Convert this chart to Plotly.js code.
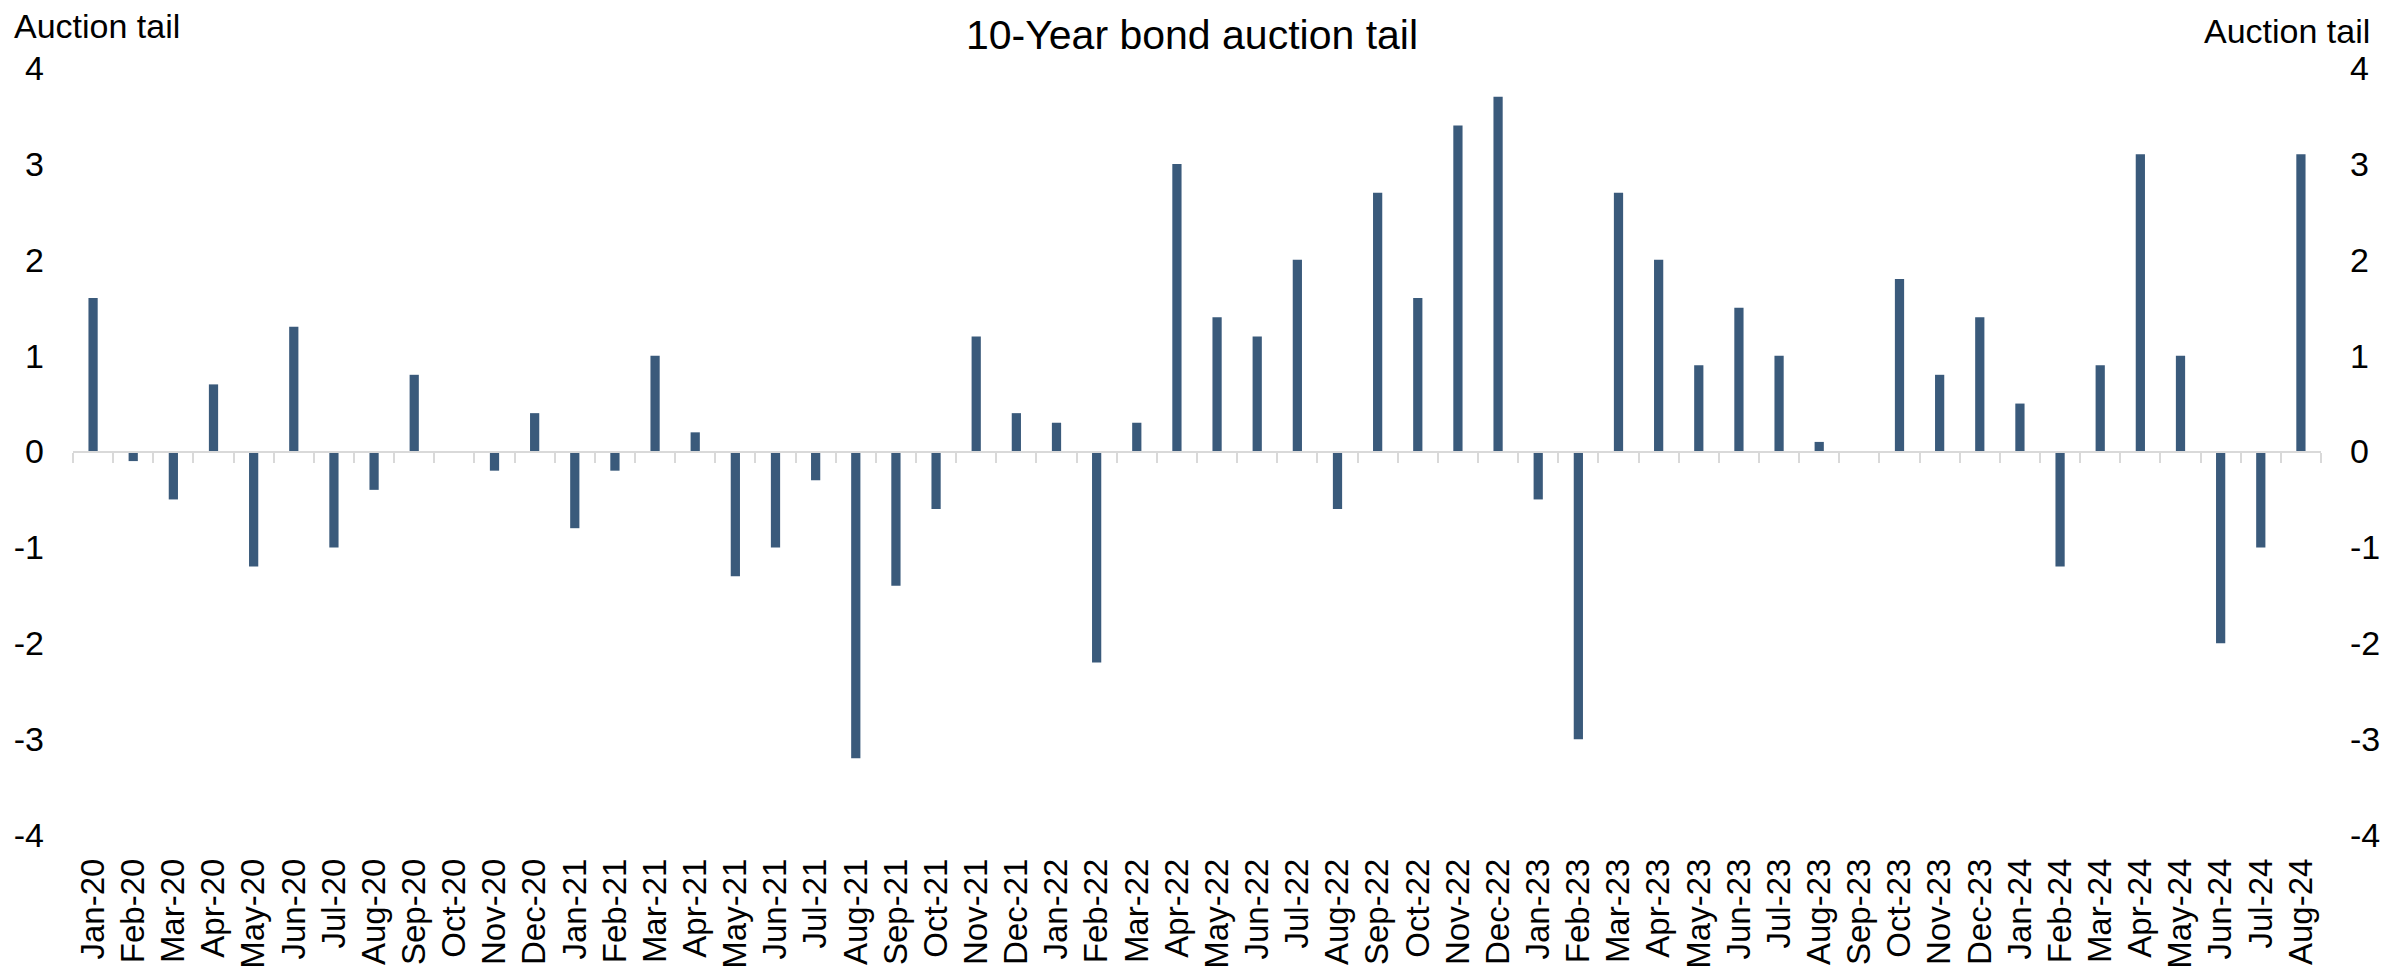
<!DOCTYPE html>
<html>
<head>
<meta charset="utf-8">
<script src="https://cdn.plot.ly/plotly-3.0.1.min.js"></script>
<style>html,body{margin:0;padding:0;background:#fff;}#chart{width:2384px;height:970px;}</style>
</head>
<body>
<div id="chart"></div>
<script>
const months = [
  "Jan-20","Feb-20","Mar-20","Apr-20","May-20","Jun-20","Jul-20","Aug-20","Sep-20","Oct-20","Nov-20","Dec-20",
  "Jan-21","Feb-21","Mar-21","Apr-21","May-21","Jun-21","Jul-21","Aug-21","Sep-21","Oct-21","Nov-21","Dec-21",
  "Jan-22","Feb-22","Mar-22","Apr-22","May-22","Jun-22","Jul-22","Aug-22","Sep-22","Oct-22","Nov-22","Dec-22",
  "Jan-23","Feb-23","Mar-23","Apr-23","May-23","Jun-23","Jul-23","Aug-23","Sep-23","Oct-23","Nov-23","Dec-23",
  "Jan-24","Feb-24","Mar-24","Apr-24","May-24","Jun-24","Jul-24","Aug-24"
];
const auctionTail = [
  1.6, -0.1, -0.5, 0.7, -1.2, 1.3, -1.0, -0.4, 0.8, 0.0, -0.2, 0.4,
  -0.8, -0.2, 1.0, 0.2, -1.3, -1.0, -0.3, -3.2, -1.4, -0.6, 1.2, 0.4,
  0.3, -2.2, 0.3, 3.0, 1.4, 1.2, 2.0, -0.6, 2.7, 1.6, 3.4, 3.7,
  -0.5, -3.0, 2.7, 2.0, 0.9, 1.5, 1.0, 0.1, 0.0, 1.8, 0.8, 1.4,
  0.5, -1.2, 0.9, 3.1, 1.0, -2.0, -1.0, 3.1
];
const yTicks = [-4, -3, -2, -1, 0, 1, 2, 3, 4];
const chartTitle = "10-Year bond auction tail";
const axisLabel = "Auction tail";

const FONT = "Liberation Sans, Arial, sans-serif";
const BAR = "#3a5a7b";
const GRAY = "#d9d9d9";

const ML = 73, MR = 63, MT = 68, MB = 135;
const PW = 2384 - ML - MR, PH = 970 - MT - MB;

const traces = [
  {
    type: "bar",
    x: months,
    y: auctionTail,
    marker: {color: BAR, line: {width: 0}},
    hoverinfo: "x+y",
    showlegend: false
  },
  {
    type: "scatter",
    mode: "markers",
    x: months,
    y: auctionTail,
    xaxis: "x2",
    yaxis: "y2",
    marker: {opacity: 0, size: 1},
    hoverinfo: "skip",
    showlegend: false
  }
];

const layout = {
  width: 2384,
  height: 970,
  paper_bgcolor: "#ffffff",
  plot_bgcolor: "#ffffff",
  margin: {l: ML, r: MR, t: MT, b: MB, pad: 0},
  font: {family: FONT, size: 34, color: "#000"},
  bargap: 0.77,
  title: {
    text: chartTitle,
    font: {family: FONT, size: 41, color: "#000"},
    x: 0.5, xref: "container", xanchor: "center",
    y: 0.979, yref: "container", yanchor: "top"
  },
  xaxis: {
    type: "category",
    categoryorder: "array",
    categoryarray: months,
    range: [-0.5, months.length - 0.5],
    tickmode: "array",
    tickvals: months,
    ticktext: months,
    showline: false,
    showgrid: false,
    zeroline: false,
    ticks: "",
    tickangle: -90,
    tickfont: {family: FONT, size: 33, color: "#000"},
    ticklabelstandoff: 16,
    fixedrange: true
  },
  xaxis2: {
    type: "category",
    categoryorder: "array",
    categoryarray: months,
    range: [-0.5, months.length - 0.5],
    overlaying: "x",
    anchor: "free",
    position: 0.5,
    showline: true,
    linecolor: GRAY,
    linewidth: 2,
    showgrid: false,
    zeroline: false,
    ticks: "outside",
    tickson: "boundaries",
    ticklen: 10,
    tickwidth: 2,
    tickcolor: GRAY,
    showticklabels: false,
    fixedrange: true
  },
  yaxis: {
    range: [-4, 4],
    tickvals: yTicks,
    ticktext: yTicks.map(String),
    showgrid: false,
    zeroline: false,
    showline: false,
    ticks: "",
    tickfont: {family: FONT, size: 34, color: "#000"},
    ticklabelstandoff: 28,
    fixedrange: true
  },
  yaxis2: {
    range: [-4, 4],
    tickvals: yTicks,
    ticktext: yTicks.map(String),
    overlaying: "y",
    side: "right",
    anchor: "x",
    showgrid: false,
    zeroline: false,
    showline: false,
    ticks: "",
    tickfont: {family: FONT, size: 34, color: "#000"},
    ticklabelstandoff: 28,
    fixedrange: true
  },
  annotations: [
    {
      text: axisLabel, showarrow: false,
      xref: "paper", yref: "paper",
      x: (12 - ML) / PW, xanchor: "left",
      y: 1 + (MT - 5) / PH, yanchor: "top",
      font: {family: FONT, size: 34, color: "#000"}
    },
    {
      text: axisLabel, showarrow: false,
      xref: "paper", yref: "paper",
      x: (2372 - ML) / PW, xanchor: "right",
      y: 1 + (MT - 10) / PH, yanchor: "top",
      font: {family: FONT, size: 34, color: "#000"}
    }
  ]
};

Plotly.newPlot("chart", traces, layout, {displayModeBar: false, staticPlot: true});
</script>
</body>
</html>
